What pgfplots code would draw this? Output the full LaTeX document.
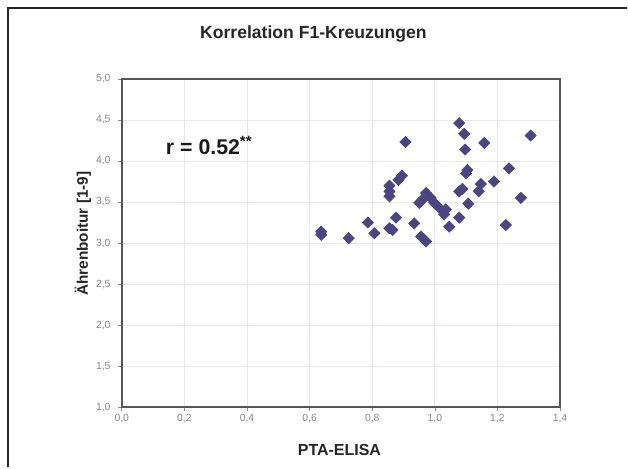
\documentclass[border=0pt]{standalone}
\usepackage{pgfplots}
\pgfplotsset{compat=1.18}
\usepackage{fontspec}
\setmainfont{Liberation Sans}
\definecolor{mk}{HTML}{4A4682}
\definecolor{gridc}{HTML}{EFE6E6}
\definecolor{tickc}{HTML}{8A8A8A}
\definecolor{framec}{HTML}{5A5555}
\begin{document}
\begin{tikzpicture}[x=0.75pt,y=0.75pt]
\path[fill=white] (0,0) rectangle (628,468);
\draw[line width=1.6pt,color=black!85] (8,0) -- (8,460) -- (628,460);
\node[font=\bfseries\fontsize{13.2}{15}\selectfont, color=black!85] at (314,434) {Korrelation F1-Kreuzungen};
\begin{axis}[
  at={(122*0.75pt,60*0.75pt)}, anchor=south west,
  scale only axis, width=439*0.75pt, height=329*0.75pt,
  xmin=0, xmax=1.4, ymin=1, ymax=5,
  xtick={0,0.2,...,1.4}, ytick={1,1.5,...,5},
  grid=major, major grid style={gridc, line width=0.6pt},
  axis line style={framec, line width=1.5pt},
  tick style={tickc, line width=0.5pt}, tick align=outside, major tick length=3pt,
  xtick pos=left, ytick pos=left,
  ticklabel style={color=tickc, font=\fontsize{7.8}{9}\selectfont},
  /pgf/number format/.cd, fixed, fixed zerofill, precision=1, use comma, assume math mode=true,
  /pgfplots/.cd,
  xticklabel style={yshift=1pt},
  yticklabel style={xshift=-2pt},
]
\addplot[only marks, mark=square*, mark size=3pt, mark options={rotate=45, fill=mk, draw=mk}] coordinates {
(0.637,3.14) (0.637,3.10) (0.725,3.06) (0.786,3.25) (0.807,3.12)
(0.855,3.18) (0.865,3.16) (0.876,3.31) (0.855,3.70) (0.855,3.63)
(0.855,3.57) (0.884,3.77) (0.895,3.82) (0.906,4.23) (0.934,3.24)
(0.950,3.49) (0.961,3.53) (0.972,3.61) (0.987,3.55) (0.998,3.49)
(1.014,3.43) (1.035,3.41) (1.030,3.35) (0.956,3.08) (0.972,3.02)
(1.046,3.20) (1.078,3.31) (1.078,4.46) (1.094,4.33) (1.097,4.14)
(1.158,4.22) (1.306,4.31) (1.104,3.89) (1.100,3.85) (1.237,3.91)
(1.088,3.66) (1.078,3.63) (1.147,3.72) (1.140,3.63) (1.189,3.75)
(1.107,3.48) (1.275,3.55) (1.227,3.22)
};
\end{axis}
\node[font=\bfseries\fontsize{12}{14}\selectfont, color=black!85] at (340,17) {PTA-ELISA};
\node[font=\bfseries\fontsize{11.5}{13}\selectfont, color=black!85, rotate=90] at (83,234) {Ährenboitur [1-9]};
\node[anchor=west, font=\bfseries\fontsize{16}{18}\selectfont, inner sep=0pt, color=black!90] at (166,322) {r = 0.52\textsuperscript{**}};
\end{tikzpicture}
\end{document}
